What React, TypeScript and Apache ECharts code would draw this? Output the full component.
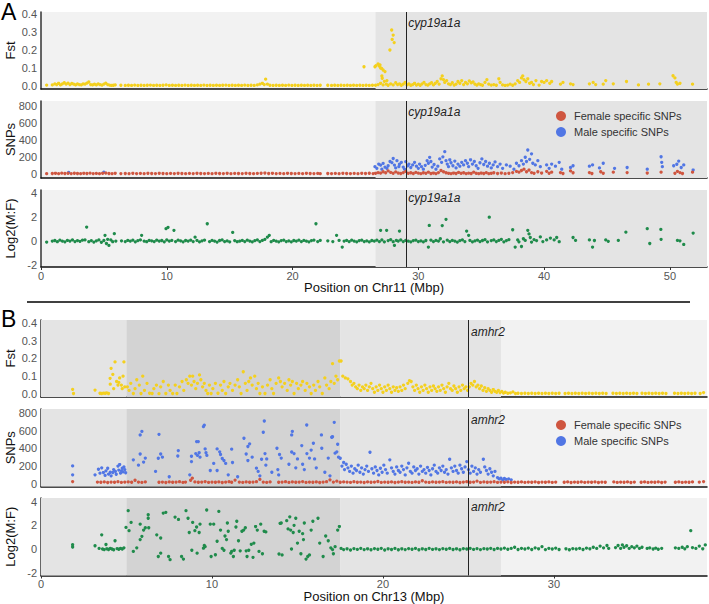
import React, { useEffect, useRef } from "react";
import * as echarts from "echarts";

// ---- Chr11 (panel A) : flat [position(Mbp), value] pairs ----
const fstChr11 = [
  0.45,.005,0.9,.006,1.1,.012,1.25,.008,1.4,.015,1.55,.006,1.7,.012,1.85,.018,2.0,.01,2.15,.016,2.3,.008,2.45,.014,2.6,.01,2.75,.006,2.9,.012,3.05,.008,3.2,.006,3.35,.012,3.5,.01,3.65,.016,3.8,.022,3.95,.008,4.1,.006,4.25,.01,4.4,.006,4.55,.012,4.7,.008,4.85,.005,5.0,.01,5.15,.016,5.3,.008,5.45,.005,5.6,.003,5.75,.004,5.9,.006,6.35,.004,
  6.7,.003,6.95,.004,7.2,.003,7.45,.005,7.7,.003,7.95,.004,8.2,.003,8.45,.004,8.7,.005,8.95,.003,9.2,.004,9.45,.003,9.7,.004,9.95,.006,10.2,.003,10.45,.004,10.7,.003,10.95,.004,11.2,.003,11.45,.005,11.7,.003,11.95,.004,12.2,.003,12.45,.004,12.7,.003,12.95,.005,13.2,.003,13.45,.004,13.7,.003,13.95,.004,14.2,.003,14.45,.004,14.7,.005,14.95,.003,15.2,.004,15.45,.003,15.7,.004,15.95,.003,16.2,.005,16.45,.003,16.7,.004,16.95,.003,17.2,.006,17.4,.01,17.6,.015,17.75,.008,17.86,.038,18.0,.01,18.2,.004,18.45,.003,18.7,.004,18.95,.003,19.2,.004,19.45,.003,19.7,.005,19.95,.003,20.2,.004,20.45,.003,20.7,.004,20.95,.003,21.2,.004,21.45,.003,21.7,.004,21.95,.003,22.2,.004,22.8,.004,
  23.1,.003,23.35,.004,23.6,.003,23.85,.004,24.1,.003,24.35,.004,24.6,.003,24.85,.004,25.1,.003,25.35,.004,25.6,.003,25.85,.004,26.1,.003,26.35,.004,
  25.68,.107,26.55,.107,26.63,.113,26.8,.122,26.9,.11,26.95,.117,27.0,.1,27.08,.098,27.2,.089,27.35,.08,27.1,.056,27.5,.03,
  27.74,.2,27.88,.311,27.92,.259,28.0,.283,28.08,.241,
  26.6,.004,26.8,.008,27.0,.015,27.2,.006,27.13,.043,27.3,.026,27.45,.01,27.6,.004,27.8,.012,28.0,.006,28.2,.018,28.35,.008,28.5,.012,28.65,.004,28.8,.01,28.95,.02,29.1,.006,29.25,.012,29.4,.004,29.55,.008,29.7,.015,29.85,.005,30.0,.01,30.15,.004,30.3,.012,30.45,.02,30.6,.008,30.75,.005,30.9,.012,31.05,.018,31.2,.006,31.35,.015,31.5,.025,31.65,.01,31.8,.04,31.9,.056,32.0,.035,32.1,.02,32.25,.03,32.4,.012,32.55,.008,32.7,.018,32.85,.005,33.0,.01,33.15,.025,33.3,.015,33.45,.03,33.6,.008,33.75,.02,33.9,.012,34.05,.028,34.2,.018,34.35,.022,34.5,.01,34.65,.005,34.8,.012,34.95,.008,35.1,.004,35.3,.02,35.45,.035,35.6,.01,35.8,.005,36.0,.008,36.2,.004,36.4,.04,36.5,.02,36.7,.006,36.9,.003,37.1,.005,37.3,.01,37.5,.004,37.7,.012,37.9,.03,38.05,.02,38.2,.045,38.3,.056,38.4,.035,38.55,.025,38.7,.04,38.85,.015,39.0,.02,39.15,.008,39.35,.03,39.6,.005,39.8,.025,40.0,.02,40.2,.03,40.45,.015,40.6,.025,41.3,.01,41.5,.02,42.1,.012,42.3,.008,43.6,.012,43.9,.02,44.1,.008,44.7,.01,44.9,.03,45.5,.012,46.55,.025,47.5,.006,48.3,.01,49.2,.012,50.25,.057,50.4,.045,50.5,.02,50.6,.01,50.8,.015,51.8,.01,
];

const femaleChr11 = [
  0.45,8,0.9,10,1.15,12,1.4,8,1.65,14,1.9,10,2.15,12,2.4,9,2.65,13,2.9,10,3.15,8,3.4,12,3.65,10,3.9,14,4.15,9,4.4,11,4.65,8,4.9,12,5.15,15,5.4,10,5.65,8,5.9,12,6.35,9,
  6.7,10,7.0,8,7.3,12,7.6,9,7.9,11,8.2,8,8.5,12,8.8,10,9.1,9,9.4,12,9.7,10,10.0,8,10.3,11,10.6,9,10.9,12,11.2,10,11.5,8,11.8,11,12.1,9,12.4,12,12.7,10,13.0,9,13.3,11,13.6,8,13.9,12,14.2,10,14.5,9,14.8,12,15.1,8,15.4,11,15.7,10,16.0,9,16.3,12,16.6,10,16.9,8,17.2,11,17.5,13,17.8,15,18.1,10,18.4,12,18.7,9,19.0,11,19.3,8,19.6,12,19.9,10,20.2,9,20.5,11,20.8,8,21.1,12,21.4,10,21.7,9,22.0,11,22.2,8,22.8,10,
  23.1,9,23.4,11,23.7,8,24.0,12,24.3,10,24.6,9,24.9,11,25.2,8,25.5,12,25.8,10,26.1,13,26.4,9,
  26.6,12,26.8,20,27.0,15,27.2,30,27.4,18,27.6,40,27.8,22,28.0,12,28.2,28,28.4,15,28.6,10,28.8,20,29.0,35,29.2,12,29.4,18,29.6,10,29.8,22,30.0,14,30.2,8,30.4,18,30.6,12,30.8,25,31.0,10,31.2,15,31.4,8,31.6,20,31.8,45,32.0,30,32.2,18,32.4,12,32.6,8,32.8,15,33.0,10,33.2,22,33.4,12,33.6,18,33.8,8,34.0,14,34.2,10,34.4,25,34.6,12,34.8,8,35.0,15,35.2,10,35.4,20,35.6,8,35.8,12,36.0,18,36.3,10,36.6,15,36.9,8,37.2,12,37.5,20,37.8,35,38.0,25,38.2,45,38.4,60,38.6,30,38.8,50,39.0,20,39.2,12,39.5,30,39.8,15,40.2,35,40.4,12,40.6,25,41.3,20,41.5,10,42.1,40,42.3,18,43.6,20,43.8,10,44.5,30,44.7,12,45.5,25,46.6,20,48.2,15,49.3,25,50.4,12,50.6,35,50.8,20,51.0,10,51.8,25,
];

const maleChr11 = [
  2.2,22,5.0,25,
  26.55,90,26.7,70,26.85,120,27.0,108,27.1,60,27.2,128,27.35,85,27.5,70,27.6,100,27.75,150,27.9,137,28.0,185,28.1,108,28.2,75,28.3,160,28.45,90,28.5,118,28.65,140,28.8,85,28.9,60,29.0,148,29.15,100,29.25,120,29.4,80,29.55,110,29.7,140,29.85,95,30.0,70,30.1,120,30.25,90,30.4,60,30.55,105,30.7,160,30.8,130,30.9,199,31.0,150,31.1,85,31.25,115,31.4,60,31.55,95,31.7,180,31.85,140,31.95,205,32.1,265,32.2,160,32.3,120,32.4,90,32.5,170,32.6,135,32.75,100,32.9,155,33.0,75,33.15,120,33.3,95,33.45,140,33.6,110,33.75,160,33.9,130,34.0,90,34.15,170,34.3,120,34.45,150,34.6,100,34.75,70,34.9,135,35.05,180,35.2,115,35.35,150,35.5,95,35.65,130,35.8,75,35.95,110,36.1,145,36.3,90,36.5,120,36.7,70,37.0,110,37.3,95,37.6,60,37.8,130,38.0,100,38.2,160,38.35,120,38.5,200,38.6,150,38.7,285,38.85,175,39.0,240,39.1,130,39.3,110,39.5,160,39.7,90,40.2,110,40.4,70,40.6,120,40.9,95,41.2,140,41.4,60,42.1,80,42.3,100,43.6,95,43.85,110,44.4,75,44.7,130,45.6,70,46.6,80,48.2,60,49.3,206,49.35,140,49.4,90,50.3,100,50.55,118,50.7,155,50.9,80,51.1,110,51.85,50,
];

const log2Chr11 = [
  0.45,-.08,0.9,0,1.1,.05,1.3,-.05,1.5,.08,1.7,0,1.9,-.06,2.1,.06,2.3,0,2.5,.1,2.7,-.04,2.9,.04,3.1,-.02,3.3,.08,3.5,.1,3.63,1.17,3.8,-.05,4.0,.04,4.2,-.08,4.4,.02,4.6,.1,4.8,-.1,5.09,.48,5.0,.05,5.2,-.2,5.3,.15,5.4,-.36,5.55,.1,5.7,-.05,5.83,.62,5.95,0,6.4,.02,6.7,-.04,6.9,.06,7.1,0,7.3,.08,7.5,-.06,7.7,.04,7.9,.1,8.0,.48,8.2,0,8.4,-.05,8.6,.06,8.8,.02,9.0,-.04,9.2,.08,9.4,0,9.6,.05,9.8,-.06,9.94,1.04,10.1,1.15,10.0,.1,10.2,0,10.4,.06,10.57,.9,10.7,-.04,10.9,.08,11.1,.02,11.3,-.06,11.5,.05,11.7,0,11.9,.08,12.1,-.04,12.25,.33,12.4,.06,12.6,-.06,12.8,.02,13.0,.08,13.22,1.45,13.4,-.04,13.6,.06,13.8,0,14.0,-.08,14.2,.05,14.4,.1,14.6,-.04,14.8,.02,15.0,-.06,15.24,.73,15.4,.04,15.6,-.05,15.8,0,16.0,.06,16.2,-.04,16.4,.08,16.6,0,16.8,-.06,17.0,.04,17.2,.1,17.4,-.04,17.6,.06,17.8,.15,18.0,.33,18.15,.48,18.3,-.05,18.5,.06,18.7,0,18.9,-.06,19.1,.04,19.3,.08,19.5,-.04,19.7,.02,19.9,-.06,20.1,.05,20.3,0,20.5,.08,20.7,-.04,20.9,.06,21.1,0,21.3,-.06,21.5,.04,21.7,.08,21.86,1.45,22.0,-.04,22.2,.06,22.8,.02,23.2,-.04,23.5,.48,23.7,.06,23.95,-.5,24.1,0,24.3,.06,24.5,-.04,24.7,.08,24.9,0,25.1,-.06,25.3,.04,25.5,.08,25.7,-.04,25.9,.02,26.1,-.06,26.3,.05,
  26.5,0,26.7,.08,26.9,-.04,27.0,.9,27.1,.1,27.3,-.06,27.48,.9,27.6,.04,27.8,.12,28.0,-.05,28.1,-.36,28.25,.06,28.4,0,28.5,.84,28.6,.1,28.8,-.04,29.0,.06,29.2,0,29.4,-.06,29.6,.04,29.8,.08,30.0,-.04,30.2,.02,30.4,-.06,30.6,.05,30.8,-.5,30.87,1.31,31.0,.08,31.2,-.04,31.4,.06,31.6,0,31.75,.2,31.9,1.3,32.0,-.06,32.2,1.82,32.3,.08,32.5,-.04,32.7,.06,32.9,0,33.1,-.08,33.3,.04,33.5,.1,33.7,-.04,33.84,.84,34.0,.48,34.1,.06,34.3,-.06,34.5,.02,34.7,.08,34.9,-.04,35.1,.05,35.3,.12,35.5,-.06,35.64,2.0,35.8,.04,36.0,.1,36.2,-.04,36.4,.06,36.6,.15,36.8,-.06,37.0,.04,37.2,.12,37.5,.95,37.7,-.5,37.9,.1,38.0,-.06,38.2,-.45,38.35,.2,38.5,.06,38.7,.9,38.8,.6,38.9,.3,39.0,-.08,39.2,.12,39.4,.04,39.7,.35,39.9,-.04,40.2,.1,40.5,.25,40.8,.1,41.0,.3,41.2,-.05,42.3,.3,42.5,.06,43.6,.1,43.85,-.5,44.0,.05,44.9,.1,45.1,-.02,45.9,.06,46.5,.75,48.2,1.04,48.4,-.2,49.28,.98,49.3,.15,50.6,.06,50.8,.02,51.1,-.28,51.85,.67,
];

// ---- Chr13 (panel B) ----
const fstChr13 = [
  1.85,.026,1.9,.003,3.16,.022,3.45,.004,3.55,.003,3.65,.005,3.75,.004,3.85,.006,3.95,.003,4.04,.088,4.05,.055,4.1,.144,4.2,.11,4.25,.03,4.33,.18,4.42,.07,4.5,.05,4.55,.065,4.6,.09,4.7,.05,4.75,.03,4.8,.1,4.85,.18,4.9,.04,
  5.05,.04,5.15,.02,5.25,.06,5.4,.003,5.5,.03,5.6,.08,5.75,.05,5.85,.003,5.95,.1,6.05,.02,6.2,.06,6.35,.004,6.5,.003,6.6,.03,6.75,.05,6.9,.002,7.0,.04,7.15,.07,7.3,.003,7.45,.05,7.55,.02,7.7,.003,7.85,.05,7.95,.003,8.1,.04,8.25,.07,8.35,.02,8.5,.08,8.6,.06,8.7,.1,8.8,.05,8.87,.1,8.95,.07,9.05,.03,9.15,.06,9.27,.107,9.35,.08,9.45,.04,9.55,.06,9.65,.02,9.75,.003,9.85,.05,9.95,.003,10.05,.03,10.2,.06,10.35,.004,10.5,.05,10.6,.02,10.7,.07,10.8,.003,10.95,.04,11.05,.06,11.2,.02,11.35,.05,11.5,.08,11.6,.04,11.7,.003,11.83,.125,11.95,.06,12.05,.02,12.15,.07,12.25,.09,12.35,.05,12.5,.1,12.6,.03,12.7,.06,12.8,.003,12.95,.04,13.1,.003,13.25,.05,13.4,.08,13.5,.03,13.6,.003,13.75,.06,13.9,.09,14.0,.07,14.1,.04,14.25,.06,14.4,.02,14.5,.08,14.6,.05,14.7,.07,14.8,.003,14.95,.06,15.05,.03,15.2,.05,15.3,.07,15.45,.02,15.55,.06,15.7,.04,15.8,.003,15.95,.05,16.05,.02,16.2,.07,16.3,.04,16.45,.003,16.6,.09,16.7,.05,16.85,.03,16.95,.07,17.05,.17,17.15,.06,17.25,.1,17.35,.08,17.45,.185,17.55,.185,
  17.65,.1,17.8,.09,17.95,.085,18.1,.07,18.2,.05,18.3,.06,18.4,.04,18.5,.03,18.6,.05,18.7,.02,18.8,.04,18.9,.03,19.0,.05,19.1,.02,19.2,.04,19.3,.06,19.4,.03,19.5,.01,19.6,.04,19.7,.02,19.8,.05,19.9,.03,20.0,.01,20.1,.04,20.2,.02,20.3,.05,20.4,.03,20.5,.01,20.6,.04,20.7,.02,20.8,.035,20.9,.015,21.0,.04,21.1,.02,21.2,.05,21.3,.03,21.45,.06,21.55,.075,21.65,.07,21.75,.04,21.85,.02,21.95,.05,22.05,.03,22.15,.01,22.25,.04,22.35,.02,22.45,.05,22.55,.03,22.65,.01,22.75,.04,22.85,.02,22.95,.045,23.05,.03,23.15,.015,23.25,.04,23.35,.02,23.45,.05,23.55,.03,23.65,.01,23.75,.04,23.85,.06,23.95,.03,24.05,.02,24.15,.045,24.25,.03,24.35,.01,24.45,.04,24.55,.02,24.65,.05,24.75,.03,24.85,.04,24.95,.02,25.05,.04,25.15,.06,25.25,.05,25.35,.07,25.45,.04,25.55,.05,25.65,.03,25.75,.045,25.85,.02,25.95,.035,26.05,.015,26.15,.03,26.25,.02,26.35,.01,26.45,.025,26.55,.015,26.65,.01,26.75,.02,26.85,.008,26.95,.015,27.05,.005,27.15,.01,27.3,.004,27.45,.006,27.6,.012,27.75,.003,
  27.9,.004,28.1,.003,28.3,.004,28.5,.003,28.7,.004,28.9,.003,29.1,.004,29.3,.003,29.5,.004,29.7,.003,29.9,.004,30.1,.003,30.3,.004,30.65,.003,30.85,.004,31.05,.003,31.25,.004,31.45,.003,31.65,.004,31.85,.003,32.05,.004,32.25,.003,32.45,.004,32.65,.003,32.85,.004,33.05,.003,33.45,.004,33.65,.003,33.85,.004,34.05,.003,34.25,.004,34.45,.003,34.65,.004,34.85,.003,35.15,.004,35.35,.003,35.55,.004,35.75,.003,35.95,.004,36.15,.003,36.35,.004,36.55,.003,37.05,.004,37.25,.003,37.45,.004,37.65,.003,37.85,.004,38.05,.003,38.25,.004,38.55,.003,38.75,.008,
];

const femaleChr13 = [
  1.85,25,3.3,20,3.5,18,3.7,22,3.9,15,4.1,20,4.3,18,4.5,24,4.7,16,4.9,20,5.1,22,5.3,18,5.5,40,5.7,20,5.9,16,6.1,22,6.9,18,7.1,20,7.3,15,7.5,22,7.7,18,7.9,20,8.1,24,8.3,16,8.45,20,8.75,40,8.85,64,9.0,22,9.2,18,9.4,20,9.6,25,9.8,16,10.0,20,10.2,18,10.4,22,10.6,15,10.8,20,11.0,24,11.15,18,11.35,42,11.6,20,11.8,16,12.0,22,12.2,18,12.4,20,12.6,24,12.8,50,13.0,20,13.2,16,13.4,22,13.9,18,14.1,20,14.3,24,14.5,16,14.7,22,14.9,18,15.1,20,15.3,25,15.5,16,15.7,20,15.9,18,16.1,22,16.3,15,16.5,20,16.7,24,16.9,45,17.1,20,17.3,30,17.5,18,17.7,22,17.9,20,18.1,16,18.3,24,18.5,18,18.7,20,18.9,15,19.1,22,19.3,18,19.5,20,19.7,26,19.9,16,20.1,20,20.3,18,20.5,22,20.7,15,20.9,20,21.1,24,21.3,18,21.5,20,21.7,16,21.9,22,22.1,18,22.3,35,22.5,20,22.7,16,22.9,22,23.1,18,23.3,20,23.5,24,23.7,16,23.9,20,24.1,18,24.3,22,24.5,15,24.7,20,24.9,24,25.1,18,25.3,20,25.5,30,25.7,16,25.9,22,26.1,18,26.3,20,26.5,24,26.7,16,26.9,20,27.1,18,27.3,22,27.5,15,27.7,20,27.9,18,28.1,22,28.3,16,28.5,20,28.7,18,28.9,22,29.1,15,29.3,20,29.5,18,29.7,22,29.9,16,30.1,20,30.6,18,30.8,22,31.0,15,31.2,20,31.4,18,31.6,22,31.8,16,32.0,20,32.2,18,32.4,22,32.6,15,32.8,20,33.0,18,33.5,22,33.7,16,33.9,20,34.1,18,34.3,22,34.5,15,34.7,20,35.1,18,35.3,22,35.5,16,35.7,20,35.9,18,36.1,22,36.3,15,36.5,20,37.1,18,37.3,22,37.5,16,37.7,20,37.9,18,38.1,22,38.5,20,38.75,25,
];

const maleChr13 = [
  1.85,202,1.85,101,3.16,101,3.36,164,3.45,120,3.55,180,3.65,127,3.75,95,3.8,146,3.9,175,3.95,110,4.05,130,4.1,90,4.2,127,4.25,160,4.35,140,4.4,108,4.5,200,4.55,155,4.6,217,4.65,120,4.7,146,4.75,175,4.8,135,4.85,190,4.9,160,4.95,125,
  5.4,270,5.7,210,5.8,336,5.8,550,5.9,590,6.0,245,6.1,290,6.7,140,6.86,288,6.9,557,7.0,336,7.1,300,7.5,80,8.03,374,8.0,313,8.7,101,8.8,250,8.8,310,9.05,340,9.1,475,9.15,320,9.2,475,9.25,350,9.3,300,9.5,643,9.55,660,9.6,393,9.65,350,9.7,320,9.9,150,10.1,230,10.3,150,10.3,393,10.45,360,10.5,330,10.6,285,10.7,262,10.8,230,10.95,101,11.15,390,11.2,240,11.5,80,11.87,513,12.0,336,12.1,420,12.1,262,12.2,450,12.35,300,12.6,176,12.7,140,12.8,90,12.9,277,13.0,580,13.06,707,13.1,340,13.15,210,13.2,280,13.5,130,13.8,400,13.85,160,13.9,100,13.95,330,14.05,290,14.5,220,14.66,550,14.7,590,14.66,358,14.8,340,14.9,180,15.0,280,15.25,430,15.3,220,15.4,160,15.54,662,15.55,340,15.7,290,15.8,380,15.93,457,16.0,280,16.1,180,16.4,550,16.42,400,16.6,130,16.8,290,16.9,90,17.0,524,17.05,530,17.15,692,17.2,345,17.3,360,17.35,445,17.4,300,
  17.5,288,17.6,200,17.7,240,17.75,160,17.85,220,17.95,180,18.05,140,18.15,200,18.25,120,18.35,170,18.45,150,18.55,210,18.65,130,18.75,180,18.85,110,18.95,160,19.05,200,19.15,140,19.24,355,19.35,170,19.45,120,19.55,190,19.65,150,19.75,100,19.85,175,19.95,130,20.05,210,20.15,160,20.25,120,20.4,270,20.5,180,20.6,140,20.7,110,20.8,190,20.9,150,21.0,130,21.1,200,21.2,160,21.3,100,21.4,180,21.5,232,21.6,140,21.7,120,21.8,190,21.9,150,22.0,170,22.1,110,22.2,200,22.3,140,22.4,160,22.5,120,22.6,185,22.7,150,22.8,100,22.9,170,23.0,210,23.1,140,23.2,120,23.3,180,23.4,150,23.5,200,23.6,130,23.7,160,23.8,110,23.9,277,24.0,180,24.1,140,24.2,200,24.3,150,24.4,120,24.5,210,24.6,170,24.7,130,24.8,190,24.9,250,25.0,160,25.1,120,25.2,200,25.3,140,25.4,180,25.5,110,25.6,160,25.7,130,25.87,277,25.95,190,26.05,150,26.15,110,26.25,170,26.35,130,26.45,90,26.55,140,26.7,70,26.8,55,26.9,65,27.0,45,27.1,60,27.2,50,27.35,55,27.5,45,
];

const log2Chr13 = [
  1.85,.36,1.85,.17,3.16,.28,3.4,.05,3.55,1.2,3.6,0,3.7,-.05,3.8,.38,3.85,.02,3.95,-.04,4.05,.05,4.15,0,4.25,-.06,4.33,.7,4.45,.04,4.55,-.02,4.65,.06,4.75,0,4.85,.1,4.97,1.83,5.1,3.24,5.15,1.55,5.27,2.25,5.4,-.2,5.6,.1,5.8,2.1,5.8,.8,5.9,1.07,6.0,1.6,6.1,1.8,6.27,2.9,6.27,2.6,6.3,1.8,6.77,1.2,6.86,-.63,7.0,-.35,7.0,.93,7.15,3.04,7.3,3.1,7.46,-.63,7.55,-.9,7.84,2.7,8.04,2.5,8.22,-.63,8.33,-.85,8.48,3.24,8.6,2.6,8.67,1.4,8.82,-.1,8.87,2.25,9.0,1.55,9.1,1.86,9.13,-.35,9.25,1.4,9.3,2.1,9.5,.07,9.55,.3,9.6,.2,9.69,3.3,9.9,2.1,9.95,-.63,10.1,2.1,10.2,-.48,10.3,.66,10.4,3.18,10.5,1.6,10.6,.05,10.7,-.1,10.76,1.1,10.85,.8,10.9,2.2,10.95,1.5,11.1,-.35,11.15,-.2,11.25,-.63,11.3,-.1,11.4,1.86,11.45,2.35,11.55,.7,11.65,-.15,11.75,1.5,11.85,1.6,11.95,1.8,12.0,-.15,12.05,-.63,12.15,-.1,12.3,.4,12.4,-.7,12.45,.5,12.55,1.9,12.65,1.6,12.75,-.2,12.85,2.1,12.95,-.4,13.05,1.5,13.15,1.45,13.98,2.17,14.05,2.2,13.92,-.42,14.1,-.5,14.37,2.4,14.45,1.7,14.55,2.72,14.6,1.6,14.65,0,14.75,1.4,14.8,2.0,14.9,2.6,15.0,.5,15.1,1.5,15.2,-.4,15.3,1.3,15.35,.8,15.4,2.2,15.5,-.85,15.6,-.63,15.7,-.5,15.8,1.6,15.9,2.35,16.2,2.6,16.3,.5,16.5,-.63,16.65,1.1,16.8,.7,16.95,.1,17.05,-.05,17.1,-.4,17.2,.2,17.35,1.6,17.45,1.9,
  17.55,.05,17.7,-.05,17.9,.02,18.1,-.08,18.3,.04,18.5,-.03,18.7,.06,18.9,-.05,19.1,.02,19.3,-.06,19.5,.04,19.7,-.02,19.9,.06,20.1,-.08,20.3,.02,20.5,-.04,20.7,.05,20.9,-.06,21.1,.02,21.3,-.05,21.5,.04,21.7,-.02,21.9,.05,22.1,-.06,22.3,.02,22.5,-.04,22.7,.06,22.9,-.03,23.1,.02,23.3,-.05,23.5,.04,23.7,-.02,23.9,.05,24.1,-.04,24.3,.02,24.5,-.06,24.7,.04,24.9,0,25.1,.06,25.3,-.03,25.5,.04,25.7,-.05,25.9,.03,26.1,0,26.3,.06,26.5,-.04,26.7,.05,26.9,0,27.1,.08,27.3,-.02,27.5,.05,27.7,.15,27.9,-.04,28.1,.06,28.3,0,28.5,.08,28.7,-.04,28.9,.1,29.1,.02,29.3,.2,29.5,-.05,29.7,.06,29.9,0,30.1,.08,30.3,-.04,30.7,.02,30.9,-.06,31.1,.04,31.3,0,31.5,.06,31.7,-.04,31.9,.08,32.1,.02,32.3,.15,32.5,.05,32.7,.25,32.9,.1,33.1,.3,33.2,.05,33.6,.12,33.75,.3,33.9,.05,34.0,.35,34.1,.15,34.25,.28,34.4,.05,34.55,.2,34.7,.1,34.85,.25,35.0,.05,35.15,.15,35.45,.05,35.6,.1,35.8,0,35.95,.08,36.1,-.02,36.3,.06,37.1,.1,37.3,.05,37.5,.15,37.65,.02,37.8,.2,38.0,1.55,38.1,.12,38.3,.05,38.5,.25,38.7,.02,38.85,.35,
];

// ---- axes, regions and annotations ----
const fstTicks = [0, 0.1, 0.2, 0.3, 0.4];
const snpTicks = [0, 200, 400, 600, 800];
const log2Ticks = [-2, 0, 2, 4];
const chr11Ticks = [0, 10, 20, 30, 40, 50];
const chr13Ticks = [0, 10, 20, 30];
const chr11Max = 52.95;
const chr13Max = 38.95;

// shaded regions: [start, end, colour]
const chr11Regions: [number, number, string][] = [[26.6, chr11Max, "#e4e4e4"]];
const chr13Regions: [number, number, string][] = [
  [0, 5.0, "#e4e4e4"],
  [5.0, 17.5, "#d3d3d3"],
  [17.5, 26.9, "#e4e4e4"],
];
const chr11Gene = { name: "cyp19a1a", pos: 29.0 };
const chr13Gene = { name: "amhr2", pos: 25.0 };

const FONT = "'Liberation Sans', Arial, Helvetica, sans-serif";
const YELLOW = "#f4d01e";
const RED = "#cf5640";
const BLUE = "#5176e4";
const GREEN = "#1f8b4b";

const toPairs = (a: number[]) => {
  const out: number[][] = [];
  for (let i = 0; i + 1 < a.length; i += 2) out.push([a[i], a[i + 1]]);
  return out;
};

type PanelDef = {
  top: number;
  height: number;
  xMax: number;
  yMin: number;
  yMax: number;
  yTicks: number[];
  yFmt: (v: number) => string;
  yName: string;
  xTicks: number[] | null;
  xName: string;
  regions: [number, number, string][];
  gene: { name: string; pos: number };
  geneY: number;
};

const fmtFst = (v: number) => v.toFixed(1);
const fmtInt = (v: number) => String(Math.round(v));

const panels: PanelDef[] = [
  { top: 12, height: 77, xMax: chr11Max, yMin: -0.0167, yMax: 0.4111, yTicks: fstTicks, yFmt: fmtFst, yName: "Fst", xTicks: null, xName: "", regions: chr11Regions, gene: chr11Gene, geneY: 0.35 },
  { top: 101, height: 77, xMax: chr11Max, yMin: -43, yMax: 858, yTicks: snpTicks, yFmt: fmtInt, yName: "SNPs", xTicks: null, xName: "", regions: chr11Regions, gene: chr11Gene, geneY: 725 },
  { top: 190, height: 77, xMax: chr11Max, yMin: -2.167, yMax: 4.276, yTicks: log2Ticks, yFmt: fmtInt, yName: "Log2(M:F)", xTicks: chr11Ticks, xName: "Position on Chr11 (Mbp)", regions: chr11Regions, gene: chr11Gene, geneY: 3.6 },
  { top: 320, height: 77, xMax: chr13Max, yMin: -0.0168, yMax: 0.415, yTicks: fstTicks, yFmt: fmtFst, yName: "Fst", xTicks: null, xName: "", regions: chr13Regions, gene: chr13Gene, geneY: 0.35 },
  { top: 409, height: 77.5, xMax: chr13Max, yMin: -30, yMax: 842, yTicks: snpTicks, yFmt: fmtInt, yName: "SNPs", xTicks: null, xName: "", regions: chr13Regions, gene: chr13Gene, geneY: 718 },
  { top: 498, height: 77.5, xMax: chr13Max, yMin: -2.237, yMax: 4.313, yTicks: log2Ticks, yFmt: fmtInt, yName: "Log2(M:F)", xTicks: chr13Ticks, xName: "Position on Chr13 (Mbp)", regions: chr13Regions, gene: chr13Gene, geneY: 3.55 },
];

function buildOption(): echarts.EChartsOption {
  const grid = panels.map((p) => ({
    left: 41,
    top: p.top,
    width: 666,
    height: p.height,
    show: true,
    backgroundColor: "#f2f2f2",
    borderWidth: 0,
    containLabel: false,
    outerBoundsMode: "none",
  }));

  const xAxis = panels.map((p, i) => ({
    type: "value" as const,
    gridIndex: i,
    min: 0,
    max: p.xMax,
    name: p.xName,
    nameLocation: "middle" as const,
    nameGap: 14,
    nameMoveOverlap: false,
    nameTextStyle: { fontSize: 13, color: "#111", fontFamily: FONT },
    axisLine: { show: true, onZero: false, lineStyle: { color: "#111", width: 1.5 } },
    axisTick: p.xTicks
      ? { show: true, length: 3, customValues: p.xTicks, lineStyle: { color: "#333" } }
      : { show: false },
    axisLabel: p.xTicks
      ? { show: true, customValues: p.xTicks, margin: 3, fontSize: 11, color: "#555", fontFamily: FONT }
      : { show: false },
    splitLine: { show: false },
  }));

  const yAxis = panels.map((p, i) => ({
    type: "value" as const,
    gridIndex: i,
    min: p.yMin,
    max: p.yMax,
    name: p.yName,
    nameLocation: "middle" as const,
    nameGap: 24,
    nameMoveOverlap: false,
    nameTextStyle: { fontSize: 13, color: "#111", fontFamily: FONT },
    axisLine: { show: true, onZero: false, lineStyle: { color: "#333", width: 1.5 } },
    axisTick: { show: false },
    axisLabel: {
      show: true,
      customValues: p.yTicks,
      formatter: (v: number) => p.yFmt(v),
      margin: 4,
      fontSize: 11,
      color: "#555",
      fontFamily: FONT,
    },
    splitLine: { show: false },
  }));

  const decorations = (p: PanelDef) => ({
    markArea: {
      silent: true,
      z: 1,
      data: p.regions.map(([a, b, c]) => [
        { xAxis: a, itemStyle: { color: c } },
        { xAxis: b },
      ]),
    },
    markLine: {
      silent: true,
      symbol: ["none", "none"],
      lineStyle: { color: "#222", width: 1, type: "solid" as const },
      label: { show: false },
      data: [{ xAxis: p.gene.pos }],
    },
    markPoint: {
      silent: true,
      symbol: "circle",
      symbolSize: 1,
      itemStyle: { color: "rgba(0,0,0,0)" },
      label: {
        show: true,
        position: "right" as const,
        distance: 2,
        formatter: p.gene.name,
        color: "#222",
        fontSize: 12,
        fontStyle: "italic" as const,
        fontFamily: FONT,
      },
      data: [{ coord: [p.gene.pos, p.geneY] }],
    },
  });

  const scatter = (name: string, idx: number, data: number[], color: string, withDeco: boolean) => ({
    type: "scatter" as const,
    name,
    xAxisIndex: idx,
    yAxisIndex: idx,
    data: toPairs(data),
    symbolSize: 3.3,
    itemStyle: { color, opacity: 1 },
    silent: true,
    z: 3,
    ...(withDeco ? decorations(panels[idx]) : {}),
  });

  const series = [
    scatter("Fst Chr11", 0, fstChr11, YELLOW, true),
    scatter("Male specific SNPs", 1, maleChr11, BLUE, true),
    scatter("Female specific SNPs", 1, femaleChr11, RED, false),
    scatter("Log2 Chr11", 2, log2Chr11, GREEN, true),
    scatter("Fst Chr13", 3, fstChr13, YELLOW, true),
    scatter("Male specific SNPs", 4, maleChr13, BLUE, true),
    scatter("Female specific SNPs", 4, femaleChr13, RED, false),
    scatter("Log2 Chr13", 5, log2Chr13, GREEN, true),
  ];

  const legendBase = {
    data: ["Female specific SNPs", "Male specific SNPs"],
    orient: "vertical" as const,
    left: 551,
    icon: "circle",
    itemWidth: 10,
    itemHeight: 10,
    itemGap: 4,
    selectedMode: false,
    textStyle: { fontSize: 11, color: "#333", lineHeight: 12, padding: [0, 0, 0, 3], fontFamily: FONT },
  };

  return {
    animation: false,
    backgroundColor: "#ffffff",
    textStyle: { fontFamily: FONT },
    grid,
    xAxis,
    yAxis,
    series,
    legend: [
      { ...legendBase, top: 105 },
      { ...legendBase, top: 414 },
    ],
    graphic: [
      { type: "text", left: 1, top: 0, style: { text: "A", fontSize: 23, fill: "#000", fontFamily: FONT } },
      { type: "text", left: 1, top: 307, style: { text: "B", fontSize: 23, fill: "#000", fontFamily: FONT } },
      { type: "line", shape: { x1: 27, y1: 302, x2: 690, y2: 302 }, style: { stroke: "#000", lineWidth: 1.5 } },
    ],
  } as echarts.EChartsOption;
}

export default function App() {
  const ref = useRef<HTMLDivElement>(null);
  useEffect(() => {
    if (!ref.current) return;
    const chart = echarts.init(ref.current, undefined, { renderer: "svg" });
    chart.setOption(buildOption());
    return () => chart.dispose();
  }, []);
  return (
    <div
      ref={ref}
      style={{ position: "fixed", left: 0, top: 0, width: 709, height: 604, background: "#fff" }}
    />
  );
}
